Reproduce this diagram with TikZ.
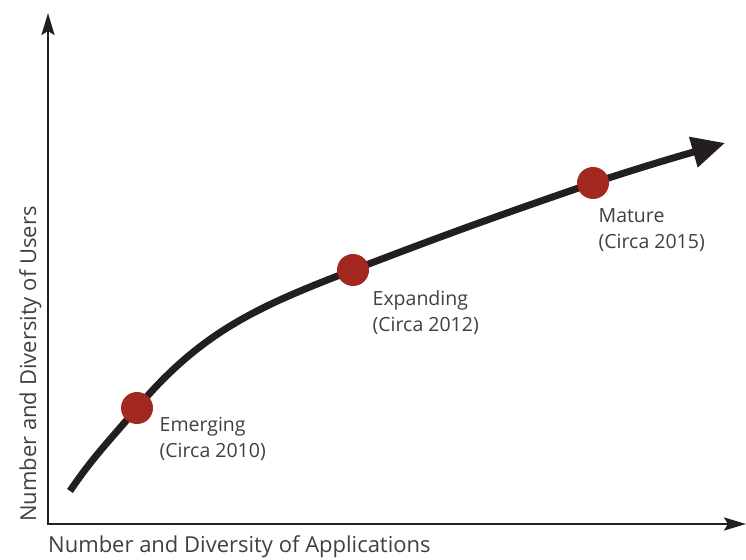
\documentclass[tikz,border=0pt]{standalone}
\usepackage{fontspec}
\setmainfont{Open Sans}
\usetikzlibrary{arrows.meta,positioning,backgrounds}
\definecolor{stagered}{RGB}{163,40,30}
\definecolor{inkgray}{RGB}{64,64,64}
\definecolor{axisblack}{RGB}{35,31,32}
\begin{document}
\begin{tikzpicture}
		[x=1pt,y=1pt,
		stage/.style ={circle, fill=stagered, minimum size=32pt, inner sep=0pt},
		stagetext/.style ={text=inkgray, align=left, inner sep=0pt, font=\fontsize{19.5}{26}\selectfont},
		axistext/.style ={stagetext, font=\fontsize{22}{26}\selectfont},
		axisline/.style ={draw=axisblack, line width=2.8pt, {Stealth[length=22pt,width=13pt,inset=4pt]}-{Stealth[length=22pt,width=13pt,inset=4pt]}},
		trend/.style ={draw=axisblack, line width=7pt, -{Triangle[length=33pt,width=30pt]}},
		]
		\useasboundingbox (0,0) rectangle (746,559);

		\coordinate (O) at (48,35);
		\coordinate (Ytop) at (48,546);
		\coordinate (Xend) at (746,35);
		\coordinate (Start) at (70,68);
		\coordinate (Finish) at (725,416);

		\draw (137,151) node[stage] (E) {};
		\draw (353,289) node[stage] (X) {};
		\draw (593,376) node[stage] (M) {};

		\node[stagetext, below right=-2pt and 11pt of E] (Elbl) {Emerging\\(Circa 2010)};
		\node[stagetext, below right=9pt and 8pt of X] (Xlbl) {Expanding\\(Circa 2012)};
		\node[stagetext, below right=14pt and -6pt of M] (Mlbl) {Mature\\(Circa 2015)};

		\node[axistext, anchor=north west] (Xtitle) at (48,24) {Number and Diversity of Applications};
		\node[axistext, rotate=90, anchor=north west] (Ytitle) at (19,37) {Number and Diversity of Users};

		\path[axisline] (Ytop) -- (O) -- (Xend);

		\begin{pgfonlayer}{background}
		\path[trend]
		(Start) to[out=56,in=230] (E.center)
		to[out=50,in=201] (X.center)
		to[out=21,in=199] (M.center)
		to[out=18,in=196] (Finish);
		\end{pgfonlayer}
	\end{tikzpicture}
\end{document}
